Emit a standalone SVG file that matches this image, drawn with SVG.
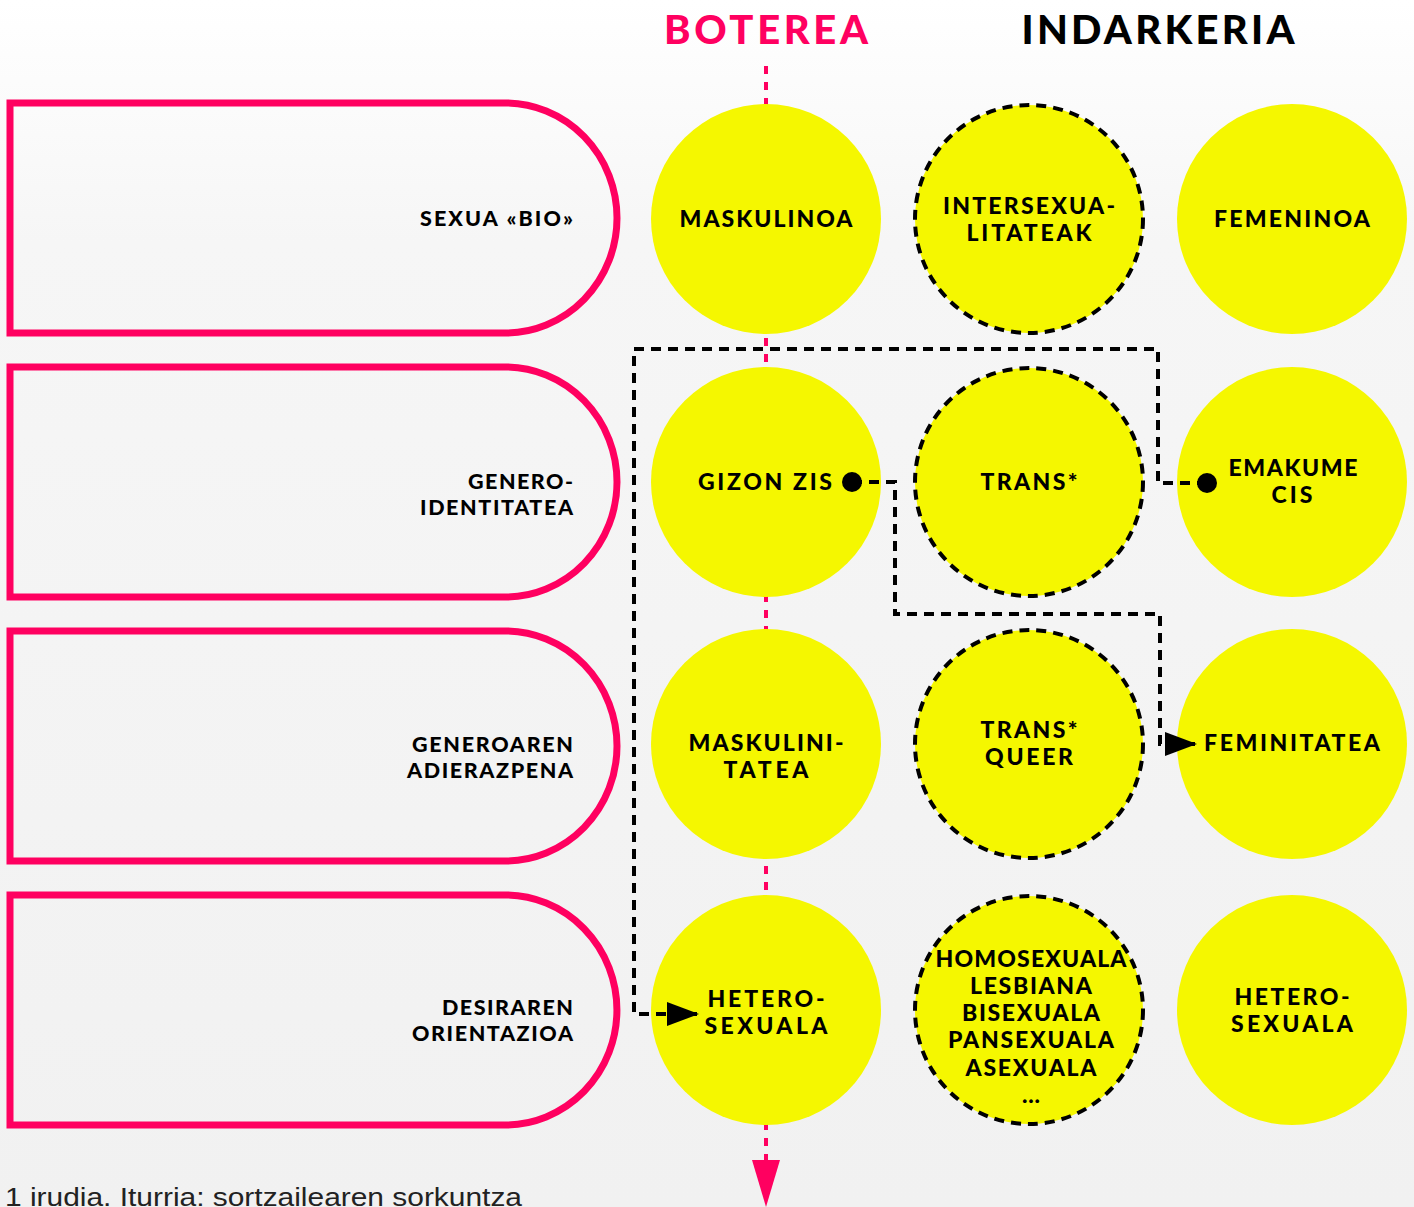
<svg xmlns="http://www.w3.org/2000/svg" width="1414" height="1207" viewBox="0 0 1414 1207">
<defs>
<linearGradient id="bg" x1="0" y1="0" x2="0" y2="1">
<stop offset="0" stop-color="#ffffff"/>
<stop offset="0.2" stop-color="#f6f6f6"/>
<stop offset="1" stop-color="#f1f1f1"/>
</linearGradient>
<marker id="ah" markerWidth="8" markerHeight="6" refX="7.5" refY="3" orient="auto" markerUnits="strokeWidth">
<path d="M0,0 L8,3 L0,6 Z" fill="#000"/>
</marker>
<style>
.box{fill:none;stroke:#ff0060;stroke-width:7}
.c{fill:#f5f700}
.cd{fill:#f5f700;stroke:#000;stroke-width:4;stroke-dasharray:10 7}
.t{font-family:"Lato","Open Sans",sans-serif;font-weight:900;font-size:23px;fill:#000;text-anchor:middle}
.l{font-family:"Lato","Open Sans",sans-serif;font-weight:900;font-size:21.5px;fill:#000;text-anchor:end}
.h{font-family:"Lato","Open Sans",sans-serif;font-weight:900;font-size:40px;text-anchor:middle}
.blk{fill:none;stroke:#000;stroke-width:4;stroke-dasharray:10 7}
</style>
</defs>
<rect width="1414" height="1207" fill="url(#bg)"/>

<g id="headers">
<text class="h" x="766" y="44" fill="#ff0060" textLength="204" lengthAdjust="spacing">BOTEREA</text>
<text class="h" x="1158" y="44" fill="#000" textLength="273" lengthAdjust="spacing">INDARKERIA</text>
</g>

<g id="power-axis">
<line x1="766" y1="66" x2="766" y2="1162" stroke="#ff0060" stroke-width="4" stroke-dasharray="8 8"/>
<path d="M752,1160 L780,1160 L766,1207 Z" fill="#ff0060"/>
</g>

<g id="row-sexua">
<path class="box" d="M10,103 H505 A112,115 0 0 1 505,333 H10 Z"/>
<text class="l" x="573" y="226" textLength="153" lengthAdjust="spacing">SEXUA «BIO»</text>
</g>
<g id="row-genero-identitatea">
<path class="box" d="M10,367 H505 A112,115 0 0 1 505,597 H10 Z"/>
<text class="l" x="573" y="489" textLength="105" lengthAdjust="spacing">GENERO-</text>
<text class="l" x="573" y="515" textLength="153" lengthAdjust="spacing">IDENTITATEA</text>
</g>
<g id="row-generoaren-adierazpena">
<path class="box" d="M10,631 H505 A112,115 0 0 1 505,861 H10 Z"/>
<text class="l" x="573" y="752" textLength="161" lengthAdjust="spacing">GENEROAREN</text>
<text class="l" x="573" y="778" textLength="166" lengthAdjust="spacing">ADIERAZPENA</text>
</g>
<g id="row-desiraren-orientazioa">
<path class="box" d="M10,895 H505 A112,115 0 0 1 505,1125 H10 Z"/>
<text class="l" x="573" y="1015" textLength="131" lengthAdjust="spacing">DESIRAREN</text>
<text class="l" x="573" y="1041" textLength="161" lengthAdjust="spacing">ORIENTAZIOA</text>
</g>

<g id="maskulinoa"><circle class="c" cx="766" cy="219" r="115"/>
<text class="t" x="766" y="227" textLength="173" lengthAdjust="spacing">MASKULINOA</text></g>
<g id="intersexualitateak"><circle class="cd" cx="1029" cy="219" r="114"/>
<text class="t" x="1029" y="214" textLength="172" lengthAdjust="spacing">INTERSEXUA-</text>
<text class="t" x="1029" y="241" textLength="125" lengthAdjust="spacing">LITATEAK</text></g>
<g id="femeninoa"><circle class="c" cx="1292" cy="219" r="115"/>
<text class="t" x="1292" y="227" textLength="156" lengthAdjust="spacing">FEMENINOA</text></g>

<g id="gizon-zis"><circle class="c" cx="766" cy="482" r="115"/>
<text class="t" x="765" y="490" textLength="134" lengthAdjust="spacing">GIZON ZIS</text></g>
<g id="trans"><circle class="cd" cx="1029" cy="482" r="114"/>
<text class="t" x="1029" y="490" textLength="97" lengthAdjust="spacing">TRANS*</text></g>
<g id="emakume-cis"><circle class="c" cx="1292" cy="482" r="115"/>
<text class="t" x="1293" y="476" textLength="129" lengthAdjust="spacing">EMAKUME</text>
<text class="t" x="1292" y="503" textLength="41" lengthAdjust="spacing">CIS</text></g>

<g id="maskulinitatea"><circle class="c" cx="766" cy="744" r="115"/>
<text class="t" x="766" y="751" textLength="155" lengthAdjust="spacing">MASKULINI-</text>
<text class="t" x="766" y="778" textLength="85" lengthAdjust="spacing">TATEA</text></g>
<g id="trans-queer"><circle class="cd" cx="1029" cy="744" r="114"/>
<text class="t" x="1029" y="738" textLength="97" lengthAdjust="spacing">TRANS*</text>
<text class="t" x="1029" y="765" textLength="88" lengthAdjust="spacing">QUEER</text></g>
<g id="feminitatea"><circle class="c" cx="1292" cy="744" r="115"/>
<text class="t" x="1292" y="751" textLength="176" lengthAdjust="spacing">FEMINITATEA</text></g>

<g id="heterosexuala-1"><circle class="c" cx="766" cy="1010" r="115"/>
<text class="t" x="766" y="1007" textLength="117" lengthAdjust="spacing">HETERO-</text>
<text class="t" x="766" y="1034" textLength="123" lengthAdjust="spacing">SEXUALA</text></g>
<g id="orientazio-anitzak"><circle class="cd" cx="1029" cy="1010" r="114"/>
<text class="t" x="1031" y="967" textLength="191" lengthAdjust="spacing">HOMOSEXUALA</text>
<text class="t" x="1031" y="994" textLength="122" lengthAdjust="spacing">LESBIANA</text>
<text class="t" x="1031" y="1021" textLength="138" lengthAdjust="spacing">BISEXUALA</text>
<text class="t" x="1031" y="1048" textLength="166" lengthAdjust="spacing">PANSEXUALA</text>
<text class="t" x="1031" y="1076" textLength="131" lengthAdjust="spacing">ASEXUALA</text>
<text class="t" x="1031" y="1103" textLength="18" lengthAdjust="spacing">...</text></g>
<g id="heterosexuala-2"><circle class="c" cx="1292" cy="1010" r="115"/>
<text class="t" x="1292" y="1005" textLength="115" lengthAdjust="spacing">HETERO-</text>
<text class="t" x="1292" y="1032" textLength="122" lengthAdjust="spacing">SEXUALA</text></g>

<g id="connectors">
<path class="blk" d="M1207,483 H1158 V349 H634 V1014 H697" marker-end="url(#ah)"/>
<path class="blk" d="M852,482 H895 V614 H1160 V744 H1195" marker-end="url(#ah)"/>
<circle cx="852" cy="482" r="10" fill="#000"/>
<circle cx="1207" cy="483" r="10" fill="#000"/>
</g>

<text x="5" y="1206" font-family="Liberation Sans, Arial, sans-serif" font-size="25" fill="#222" textLength="517" lengthAdjust="spacingAndGlyphs">1 irudia. Iturria: sortzailearen sorkuntza</text>
</svg>
